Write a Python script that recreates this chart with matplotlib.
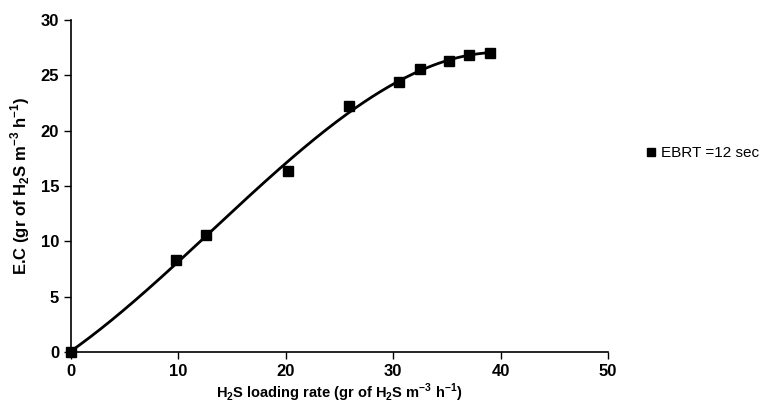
import numpy as np
import matplotlib

matplotlib.use('Agg')
import matplotlib.pyplot as plt

plt.rcParams['font.family'] = ['Liberation Sans', 'DejaVu Sans']
plt.rcParams['mathtext.fontset'] = 'custom'
plt.rcParams['mathtext.rm'] = 'Liberation Sans:bold'
plt.rcParams['mathtext.bf'] = 'Liberation Sans:bold'
plt.rcParams['axes.unicode_minus'] = False

# data
loading_rate = [0, 9.8, 12.6, 20.2, 25.9, 30.5, 32.5, 35.2, 37.1, 39.0]
ec = [0, 8.3, 10.6, 16.4, 22.2, 24.4, 25.6, 26.3, 26.8, 27.0]
x_ticks = [0, 10, 20, 30, 40, 50]
y_ticks = [0, 5, 10, 15, 20, 25, 30]

fig = plt.figure(figsize=(7.83, 4.07), dpi=100)
ax = fig.add_axes([0.0907, 0.135, 0.6858, 0.816])

# polynomial trend line through the points
coef = np.polyfit(loading_rate, ec, 3)
xs = np.linspace(0, max(loading_rate), 200)
ax.plot(xs, np.polyval(coef, xs), color='black', linewidth=2)
ax.plot(loading_rate, ec, 's', color='black', markersize=7.5, linestyle='none',
        label='EBRT =12 sec', clip_on=False)

ax.set_xlim(0, 50)
ax.set_ylim(0, 30)
ax.set_xticks(x_ticks)
ax.set_yticks(y_ticks)
ax.spines['top'].set_visible(False)
ax.spines['right'].set_visible(False)
ax.spines['left'].set_linewidth(1.2)
ax.spines['bottom'].set_linewidth(1.2)
ax.tick_params(direction='out', length=5, width=1, labelsize=12)
for lbl in ax.get_xticklabels() + ax.get_yticklabels():
    lbl.set_fontweight('bold')

ax.set_xlabel(r'H$_\mathrm{2}$S loading rate (gr of H$_\mathrm{2}$S m$^\mathrm{-3}$ h$^\mathrm{-1}$)',
              fontsize=10.5, fontweight='bold', labelpad=2)
ax.set_ylabel(r'E.C (gr of H$_\mathrm{2}$S m$^\mathrm{-3}$ h$^\mathrm{-1}$)',
              fontsize=12, fontweight='bold', labelpad=6)

leg = fig.legend(loc='center left', bbox_to_anchor=(0.826, 0.624), frameon=False,
                 fontsize=11, handletextpad=0.3, handlelength=0.6, markerscale=0.8,
                 borderpad=0, borderaxespad=0)

fig.savefig('out.png', dpi=100)
